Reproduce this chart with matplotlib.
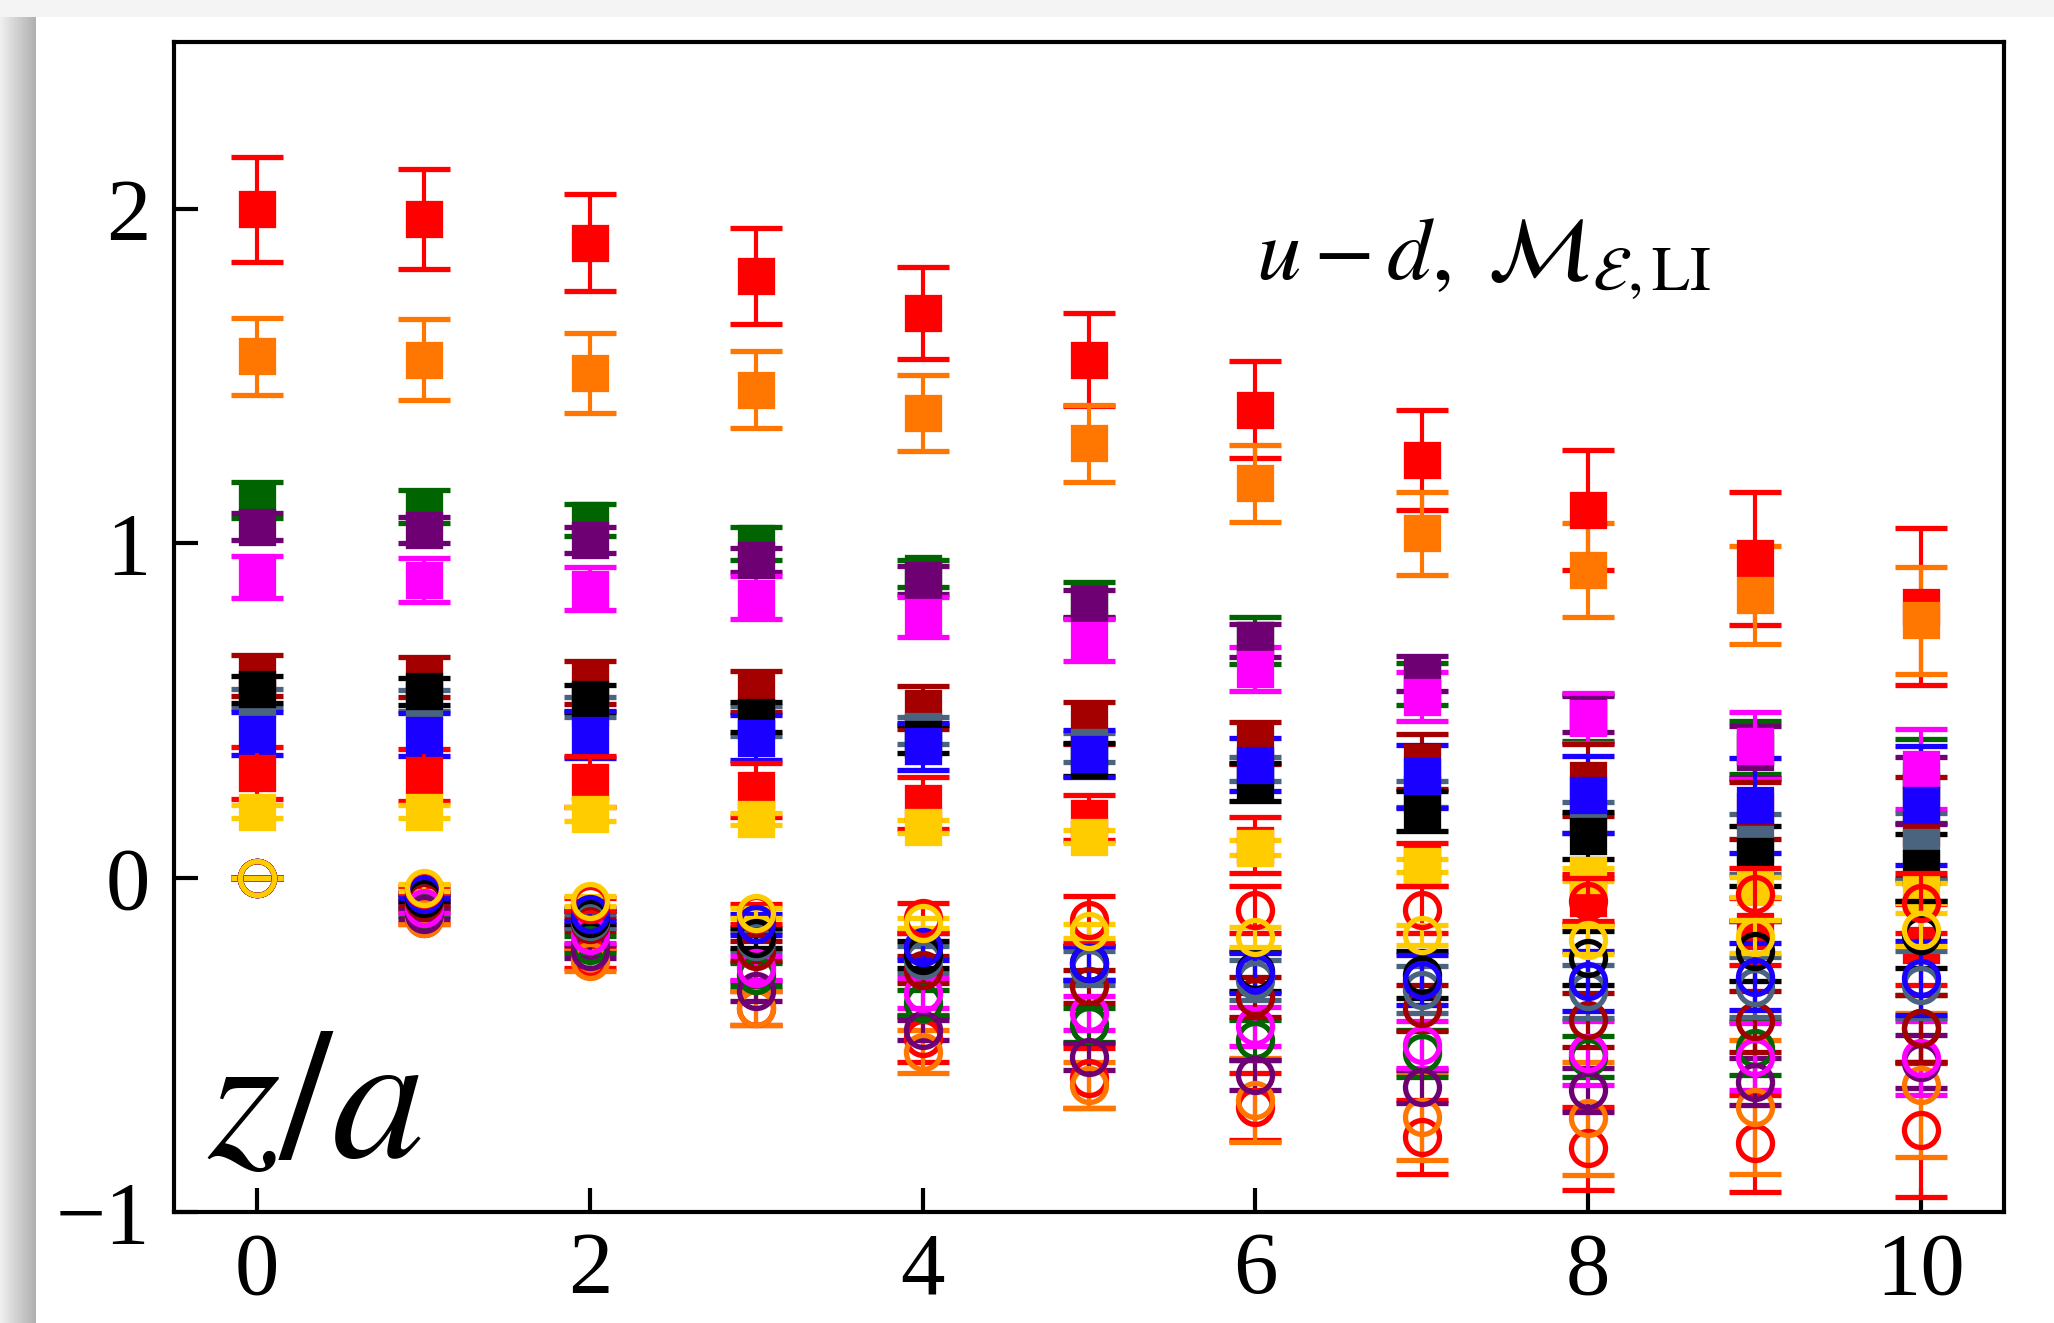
import numpy as np
import matplotlib.pyplot as plt
from matplotlib.patches import Rectangle

plt.rcParams['font.family'] = ['Liberation Serif', 'DejaVu Serif']
plt.rcParams['mathtext.fontset'] = 'stix'

z = np.arange(11)

# squares: real part, circles: imaginary part
re_red_a = [2.00, 1.97, 1.90, 1.80, 1.69, 1.55, 1.40, 1.25, 1.10, 0.955, 0.81]
re_red_a_err = [0.157, 0.15, 0.145, 0.143, 0.137, 0.14, 0.145, 0.15, 0.18, 0.20, 0.235]
im_red_a = [0, -0.12, -0.24, -0.39, -0.48, -0.60, -0.685, -0.775, -0.81, -0.795, -0.755]
im_red_a_err = [0, 0.02, 0.03, 0.05, 0.07, 0.09, 0.10, 0.11, 0.125, 0.145, 0.20]

re_orange = [1.56, 1.55, 1.51, 1.46, 1.39, 1.30, 1.18, 1.03, 0.92, 0.845, 0.77]
re_orange_err = [0.115, 0.12, 0.12, 0.115, 0.115, 0.115, 0.115, 0.125, 0.14, 0.146, 0.16]
im_orange = [0, -0.12, -0.25, -0.39, -0.52, -0.62, -0.665, -0.715, -0.72, -0.685, -0.62]
im_orange_err = [0, 0.02, 0.03, 0.05, 0.065, 0.07, 0.125, 0.13, 0.17, 0.20, 0.215]

re_green = [1.13, 1.11, 1.07, 1.00, 0.91, 0.83, 0.71, 0.58, 0.48, 0.39, 0.29]
re_green_err = [0.053, 0.05, 0.048, 0.05, 0.04, 0.054, 0.07, 0.063, 0.07, 0.08, 0.125]
im_green = [0, -0.10, -0.20, -0.29, -0.375, -0.44, -0.485, -0.525, -0.535, -0.51, -0.45]
im_green_err = [0, 0.015, 0.025, 0.035, 0.04, 0.05, 0.06, 0.07, 0.06, 0.08, 0.10]

re_purple = [1.05, 1.04, 1.01, 0.95, 0.89, 0.82, 0.71, 0.61, 0.49, 0.375, 0.26]
re_purple_err = [0.04, 0.04, 0.04, 0.035, 0.042, 0.04, 0.05, 0.053, 0.053, 0.078, 0.10]
im_purple = [0, -0.11, -0.22, -0.34, -0.455, -0.535, -0.59, -0.625, -0.635, -0.61, -0.55]
im_purple_err = [0, 0.015, 0.02, 0.03, 0.03, 0.04, 0.045, 0.05, 0.065, 0.07, 0.08]

re_magenta = [0.90, 0.89, 0.865, 0.838, 0.78, 0.71, 0.623, 0.542, 0.478, 0.395, 0.326]
re_magenta_err = [0.062, 0.066, 0.063, 0.063, 0.06, 0.063, 0.066, 0.073, 0.075, 0.10, 0.12]
im_magenta = [0, -0.09, -0.17, -0.27, -0.345, -0.405, -0.445, -0.50, -0.525, -0.535, -0.54]
im_magenta_err = [0, 0.015, 0.025, 0.035, 0.045, 0.05, 0.058, 0.07, 0.095, 0.10, 0.11]

re_darkred = [0.605, 0.60, 0.584, 0.557, 0.509, 0.464, 0.404, 0.347, 0.293, 0.20, 0.15]
re_darkred_err = [0.062, 0.06, 0.063, 0.06, 0.063, 0.063, 0.063, 0.083, 0.107, 0.085, 0.15]
im_darkred = [0, -0.07, -0.14, -0.22, -0.275, -0.325, -0.356, -0.39, -0.425, -0.43, -0.45]
im_darkred_err = [0, 0.012, 0.02, 0.03, 0.04, 0.05, 0.06, 0.07, 0.08, 0.09, 0.10]

re_slate = [0.536, 0.53, 0.51, 0.47, 0.44, 0.39, 0.325, 0.25, 0.18, 0.10, 0.093]
re_slate_err = [0.027, 0.03, 0.03, 0.045, 0.04, 0.043, 0.037, 0.04, 0.047, 0.09, 0.10]
im_slate = [0, -0.06, -0.13, -0.19, -0.245, -0.27, -0.305, -0.335, -0.34, -0.326, -0.32]
im_slate_err = [0, 0.01, 0.02, 0.03, 0.04, 0.05, 0.06, 0.07, 0.08, 0.09, 0.10]

re_black = [0.563, 0.557, 0.536, 0.482, 0.416, 0.353, 0.286, 0.20, 0.126, 0.065, 0.03]
re_black_err = [0.04, 0.04, 0.04, 0.045, 0.042, 0.05, 0.058, 0.06, 0.07, 0.09, 0.10]
im_black = [0, -0.06, -0.12, -0.18, -0.23, -0.255, -0.28, -0.29, -0.24, -0.22, -0.17]
im_black_err = [0, 0.01, 0.02, 0.03, 0.04, 0.05, 0.06, 0.07, 0.08, 0.09, 0.10]

re_blue = [0.431, 0.428, 0.428, 0.419, 0.393, 0.371, 0.338, 0.303, 0.248, 0.216, 0.216]
re_blue_err = [0.065, 0.065, 0.07, 0.067, 0.07, 0.07, 0.08, 0.095, 0.115, 0.143, 0.177]
im_blue = [0, -0.05, -0.11, -0.14, -0.206, -0.255, -0.285, -0.305, -0.31, -0.296, -0.30]
im_blue_err = [0, 0.01, 0.02, 0.03, 0.04, 0.05, 0.06, 0.075, 0.09, 0.10, 0.11]

re_red_b = [0.314, 0.308, 0.287, 0.263, 0.224, 0.18, 0.099, 0.04, -0.06, -0.16, -0.20]
re_red_b_err = [0.078, 0.078, 0.077, 0.08, 0.078, 0.068, 0.084, 0.065, 0.07, 0.10, 0.12]
im_red_b = [0, -0.035, -0.08, -0.11, -0.12, -0.126, -0.096, -0.096, -0.07, -0.05, -0.075]
im_red_b_err = [0, 0.01, 0.02, 0.03, 0.045, 0.07, 0.07, 0.07, 0.07, 0.08, 0.09]

re_gold = [0.198, 0.198, 0.19, 0.177, 0.153, 0.123, 0.09, 0.036, 0.009, -0.027, -0.045]
re_gold_err = [0.02, 0.02, 0.02, 0.018, 0.02, 0.02, 0.023, 0.02, 0.02, 0.03, 0.03]
im_gold = [0, -0.03, -0.07, -0.105, -0.135, -0.16, -0.176, -0.171, -0.186, -0.176, -0.155]
im_gold_err = [0, 0.01, 0.015, 0.015, 0.015, 0.02, 0.03, 0.03, 0.043, 0.05, 0.05]

series = [
    ('#ff0000', re_red_a, re_red_a_err, im_red_a, im_red_a_err),
    ('#ff7700', re_orange, re_orange_err, im_orange, im_orange_err),
    ('#006400', re_green, re_green_err, im_green, im_green_err),
    ('#6e0073', re_purple, re_purple_err, im_purple, im_purple_err),
    ('#ff00ff', re_magenta, re_magenta_err, im_magenta, im_magenta_err),
    ('#a50000', re_darkred, re_darkred_err, im_darkred, im_darkred_err),
    ('#4a6480', re_slate, re_slate_err, im_slate, im_slate_err),
    ('#000000', re_black, re_black_err, im_black, im_black_err),
    ('#1a00ff', re_blue, re_blue_err, im_blue, im_blue_err),
    ('#ff0000', re_red_b, re_red_b_err, im_red_b, im_red_b_err),
    ('#ffcc00', re_gold, re_gold_err, im_gold, im_gold_err),
]

fig = plt.figure(figsize=(20.54, 13.23), dpi=100, facecolor='#f4f4f4')

# white sheet with a soft shadow on its left edge
fig.patches.append(Rectangle((36 / 2054, 0), 1, 1 - 17 / 1323, transform=fig.transFigure,
                             facecolor='white', edgecolor='none', zorder=-10))
shade = fig.add_axes([0, 0, 36 / 2054, 1 - 17 / 1323], zorder=-5)
shade.imshow(np.linspace(0.96, 0.78, 64)[None, :] ** 1.5, cmap='gray', vmin=0, vmax=1,
             aspect='auto', extent=(0, 1, 0, 1))
shade.axis('off')

ax = fig.add_axes([0.0847, 0.0839, 0.8910, 0.8844])

# square marker edge also sets the cap thickness
for c, re, re_err, im, im_err in series:
    ax.errorbar(z, re, yerr=re_err, fmt='s', color=c, ms=23, mew=3.8,
                elinewidth=3, capsize=19, capthick=3.8)

for c, re, re_err, im, im_err in series:
    ax.errorbar(z, im, yerr=im_err, fmt='o', color=c, mfc='none', ms=24.5, mew=3.8,
                elinewidth=3, capsize=19, capthick=3.8, zorder=3)

ax.set_xlim(-0.5, 10.5)
ax.set_ylim(-1, 2.5)
ax.set_xticks([0, 2, 4, 6, 8, 10])
ax.set_yticks([-1, 0, 1, 2])
ax.tick_params(direction='in', length=17, width=3, labelsize=64)
ax.tick_params(axis='x', pad=14)
ax.tick_params(axis='y', pad=17)
for sp in ax.spines.values():
    sp.set_linewidth(3)

ax.text(0.018, 0.047, r'$z/a$', transform=ax.transAxes, fontsize=134, va='baseline')
ax.text(0.591, 0.798, r'$u - d,\ \mathcal{M}_{\mathcal{E},\mathrm{LI}}$',
        transform=ax.transAxes, fontsize=64, va='baseline')

fig.savefig('out.png', dpi=100, facecolor=fig.get_facecolor())
